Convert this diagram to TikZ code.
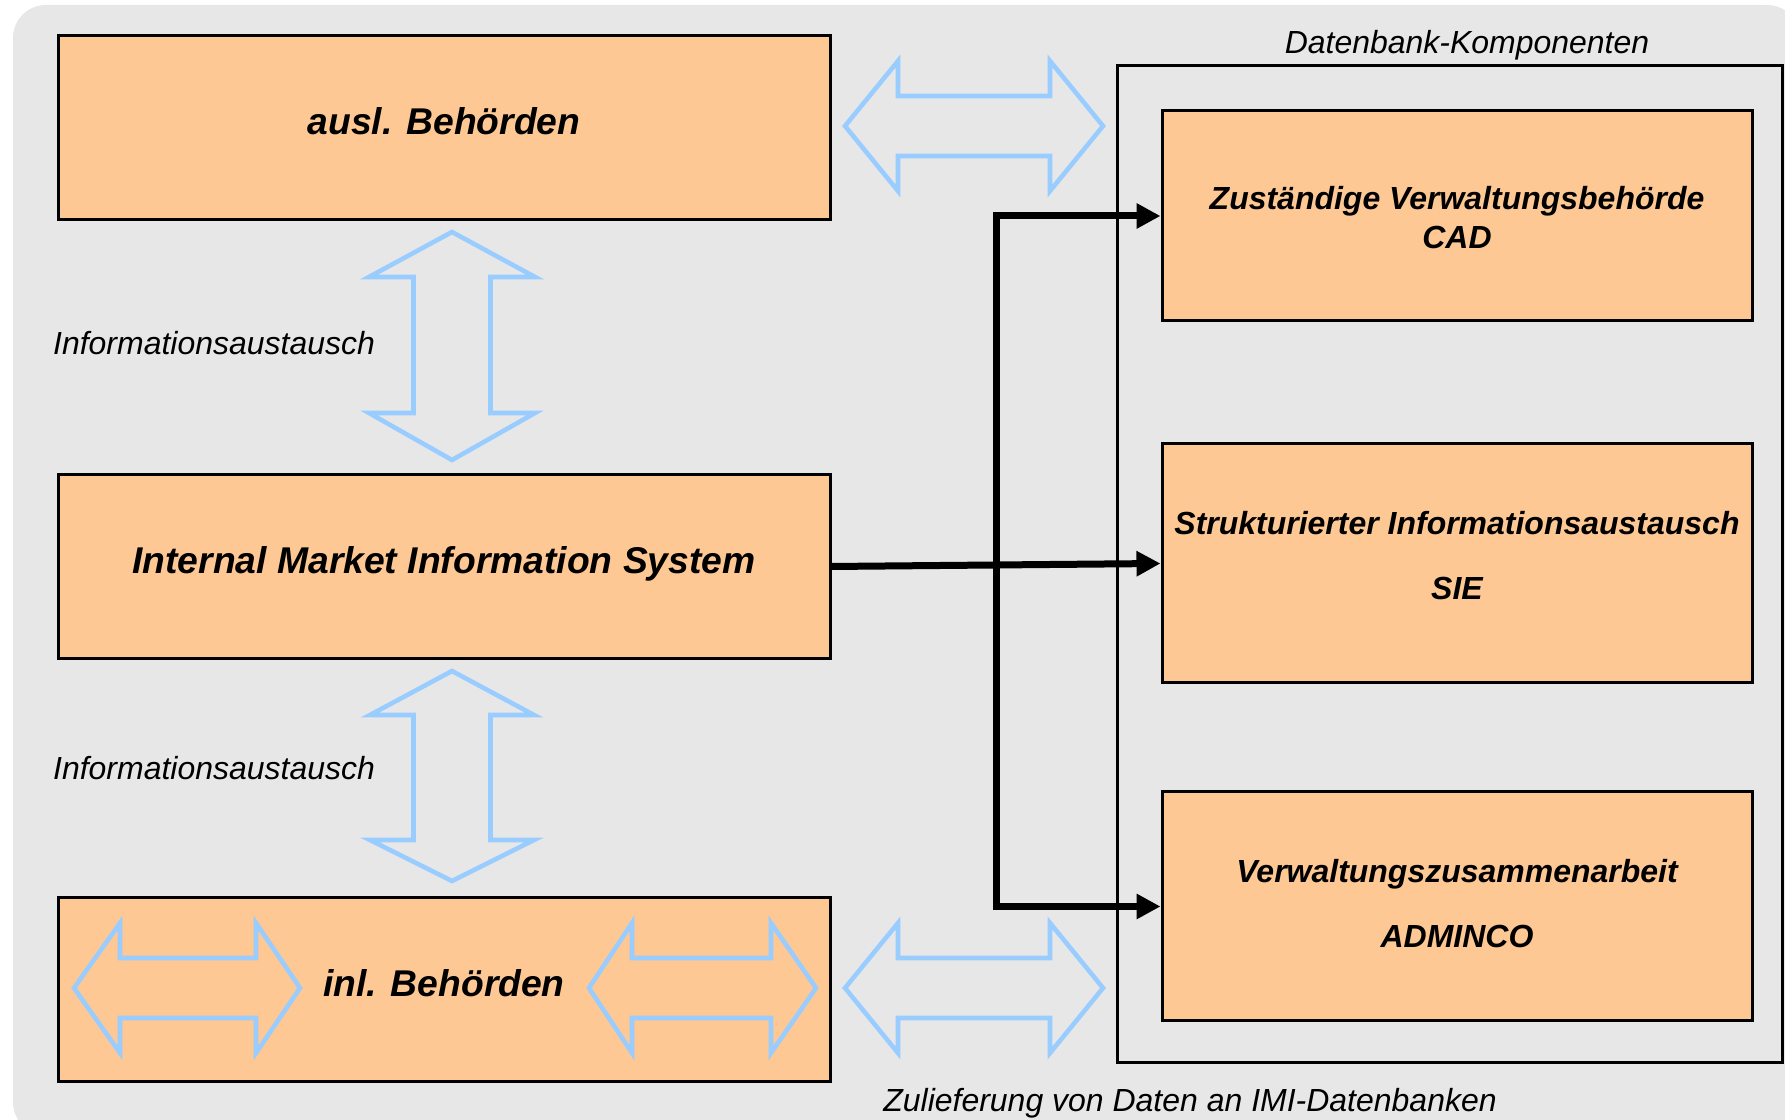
\documentclass[tikz,border=0pt]{standalone}
\usepackage{fontspec}
\setmainfont{Liberation Sans}
\usepackage{tikz}
\usetikzlibrary{arrows.meta}

\definecolor{peach}{RGB}{254,200,148}
\definecolor{bggray}{RGB}{231,231,231}
\definecolor{arrowblue}{RGB}{153,204,255}

\begin{document}
\begin{tikzpicture}[x=0.1mm,y=-0.1mm,>={Triangle[length=2.4mm,width=2.4mm]},
                    line join=miter]
\tikzstyle{box}=[draw=black,line width=0.3mm,fill=peach,inner sep=2pt,align=center,
                 font=\fontsize{9.1pt}{11.1pt}\selectfont\bfseries\itshape]
\tikzstyle{bigbox}=[box,minimum width=77.2mm,minimum height=18.4mm,text height=2.5mm,text depth=1.14mm,
                    font=\fontsize{10.6pt}{12.6pt}\selectfont\bfseries\itshape]
\tikzstyle{dbbox}=[box,minimum width=59mm,text depth=0.5mm]
\tikzstyle{infoarrow}=[draw=arrowblue,line width=1.3pt]
\tikzstyle{feed}=[->,line width=0.7mm]
\tikzset{lbl/.style={font=\fontsize{9.1pt}{10.8pt}\selectfont\itshape}}

        \useasboundingbox (0,0) rectangle (1785,1120);
        \fill[bggray,rounded corners=3.3mm] (13,5) rectangle (1800,1135);
        \draw[line width=0.3mm] (1117,66) rectangle (1782,1063);

        \node[bigbox]                                   (ausl)  at (444,127.5)       {ausl. Behörden};
        \node[bigbox, node distance=43.9mm]             (imis)  [below of=ausl]      {Internal Market Information System};
        \node[bigbox, node distance=42.3mm]             (inl)   [below of=imis]      {inl. Behörden};

        \node[dbbox,minimum height=21mm,text height=6.96mm]  (cad) at (1457,216)     {Zuständige Verwaltungsbehörde\\CAD};
        \node[dbbox,minimum height=23.9mm,text height=7.66mm, node distance=34.75mm] (sie) [below of=cad] {Strukturierter Informationsaustausch\\[7.2pt]SIE};
        \node[dbbox,minimum height=22.9mm,text height=8.74mm, node distance=34.3mm]  (adm) [below of=sie] {Verwaltungszusammenarbeit\\[7.5pt]ADMINCO};

        \node[lbl]                                      (l1)    at (214,343)         {Informationsaustausch};
        \node[lbl]                                      (l2)    at (214,768)         {Informationsaustausch};
        \node[lbl]                                      (db)    at (1467,45.5)       {Datenbank-Komponenten};
        \node[lbl]                                      (zl)    at (1190,1103.5)     {Zulieferung von Daten an IMI-Datenbanken};

        % hollow double arrows
        \draw[infoarrow] (845,126) -- ++(53,-65) -- ++(0,35) -- ++(152,0) -- ++(0,-35) -- ++(53,65)
                         -- ++(-53,65) -- ++(0,-35) -- ++(-152,0) -- ++(0,35) -- cycle;
        \draw[infoarrow] (845,988) -- ++(53,-65) -- ++(0,35) -- ++(152,0) -- ++(0,-35) -- ++(53,65)
                         -- ++(-53,65) -- ++(0,-35) -- ++(-152,0) -- ++(0,35) -- cycle;
        \draw[infoarrow] (74,988) -- ++(46,-65) -- ++(0,35) -- ++(136,0) -- ++(0,-35) -- ++(44,65)
                         -- ++(-44,65) -- ++(0,-35) -- ++(-136,0) -- ++(0,35) -- cycle;
        \draw[infoarrow] (589,988) -- ++(43,-65) -- ++(0,35) -- ++(139,0) -- ++(0,-35) -- ++(45,65)
                         -- ++(-45,65) -- ++(0,-35) -- ++(-139,0) -- ++(0,35) -- cycle;
        \draw[infoarrow] (452,232) -- ++(83,45) -- ++(-44.5,0) -- ++(0,136) -- ++(44.5,0) -- ++(-83,47)
                         -- ++(-83,-47) -- ++(44.5,0) -- ++(0,-136) -- ++(-44.5,0) -- cycle;
        \draw[infoarrow] (452,671) -- ++(82,44) -- ++(-43.5,0) -- ++(0,125) -- ++(43.5,0) -- ++(-82,41)
                         -- ++(-82,-41) -- ++(43.5,0) -- ++(0,-125) -- ++(-43.5,0) -- cycle;

        % feeding lines
        \coordinate (jn) at (996.5,565);
        \draw[feed] (imis.east) -- (sie.west);
        \draw[feed] (jn) |- (cad.west);
        \draw[feed] (jn) |- (adm.west);

\end{tikzpicture}
\end{document}
